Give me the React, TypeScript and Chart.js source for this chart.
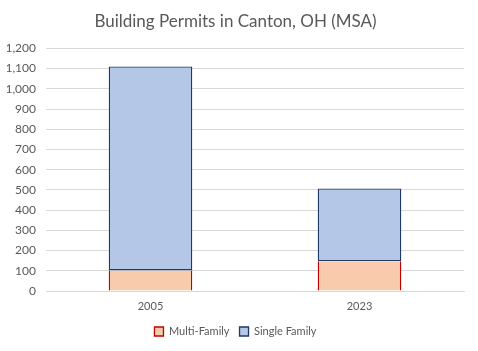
import React, { useEffect, useRef } from "react";
import { Chart, registerables } from "chart.js";

Chart.register(...registerables);

const categories = ["2005", "2023"];
const multiFamily = [102, 147];
const singleFamily = [1009, 360];
const seriesNames = ["Multi-Family", "Single Family"];

const FONT = "Lato, 'Open Sans', sans-serif";
const TEXT = "#595959";

export default function App() {
  const ref = useRef<HTMLCanvasElement | null>(null);
  useEffect(() => {
    if (!ref.current) return;
    const chart = new Chart(ref.current, {
      type: "bar",
      data: {
        labels: categories,
        datasets: [
          {
            label: seriesNames[0],
            data: multiFamily,
            backgroundColor: "#F8CBAD",
            borderColor: "#C00000",
            borderWidth: { top: 0, left: 1.3, right: 1.3, bottom: 0 } as any,
            borderSkipped: false,
          },
          {
            label: seriesNames[1],
            data: singleFamily,
            backgroundColor: "#B4C7E7",
            borderColor: "#1F3864",
            borderWidth: 1.3,
            borderSkipped: false,
          },
        ],
      },
      options: {
        animation: false,
        responsive: false,
        maintainAspectRatio: false,
        layout: { padding: { left: 7, right: 14, top: 11, bottom: 4 } },
        datasets: { bar: { categoryPercentage: 0.4, barPercentage: 1 } },
        scales: {
          x: {
            stacked: true,
            grid: { display: false, drawTicks: false },
            border: { display: true, color: "#D9D9D9", width: 1 },
            ticks: { color: TEXT, font: { family: FONT, size: 11 }, padding: 9 },
            afterFit: (s: any) => {
              s.height = 25;
            },
          },
          y: {
            stacked: true,
            min: 0,
            max: 1200,
            grid: { color: "#D9D9D9", lineWidth: 1, drawTicks: false },
            border: { display: false },
            ticks: {
              stepSize: 100,
              color: TEXT,
              font: { family: FONT, size: 12 },
              padding: 10,
              callback: (v: any) => Number(v).toLocaleString("en-US"),
            },
            afterFit: (s: any) => {
              s.width = 39;
            },
          },
        },
        plugins: {
          title: {
            display: true,
            text: "Building Permits in Canton, OH (MSA)",
            color: TEXT,
            font: { family: FONT, size: 17, weight: "normal" },
            padding: { top: 0, bottom: 17 },
          },
          legend: {
            position: "bottom",
            labels: {
              color: TEXT,
              font: { family: FONT, size: 11 },
              boxWidth: 9,
              boxHeight: 9,
              padding: 10,
              generateLabels: (c: any) =>
                Chart.defaults.plugins.legend.labels.generateLabels(c).map((l: any) => ({
                  ...l,
                  lineWidth: 1.3,
                })),
            },
          },
          tooltip: { enabled: false },
        },
      },
    });
    return () => chart.destroy();
  }, []);
  return (
    <div style={{ position: "fixed", left: 0, top: 0, width: 478, height: 351, background: "#fff" }}>
      <canvas ref={ref} width={478} height={351} style={{ width: 478, height: 351 }} />
    </div>
  );
}
